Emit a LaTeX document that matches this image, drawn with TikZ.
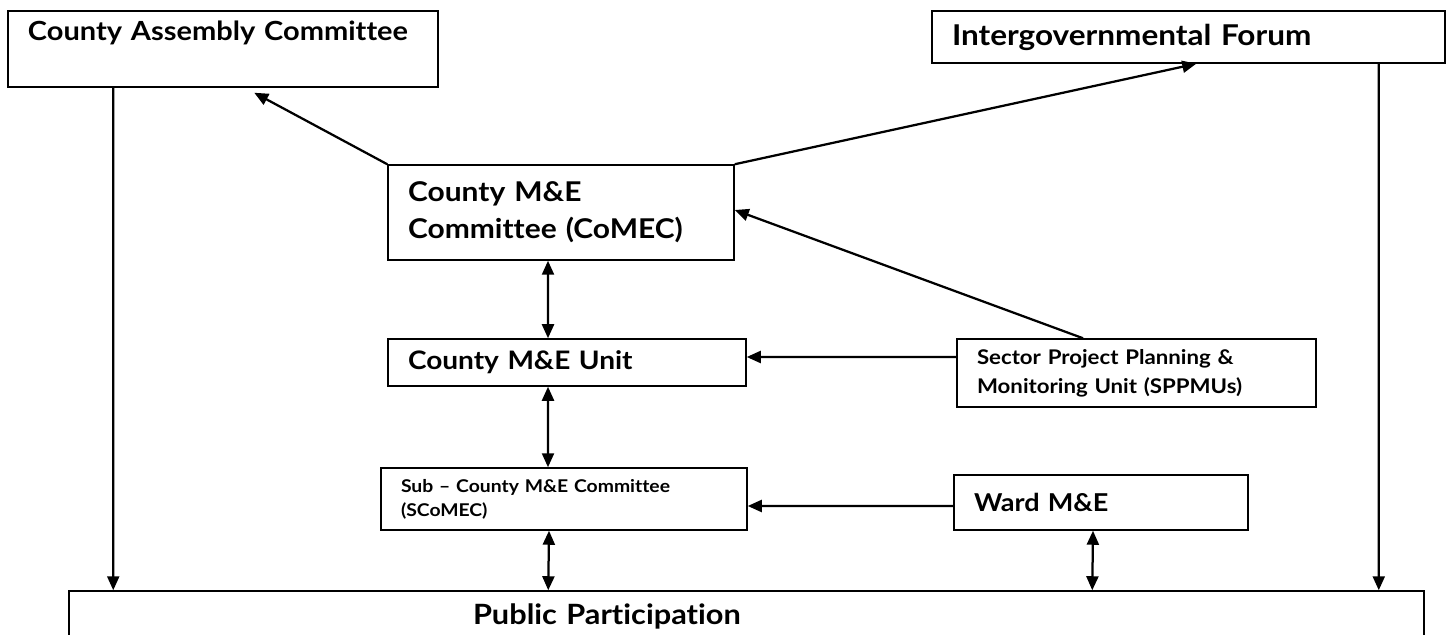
\documentclass[tikz,border=0pt]{standalone}
\usepackage{fontspec}
\setmainfont{Lato}[FakeStretch=1.1, Ligatures=NoCommon]
\usetikzlibrary{arrows.meta}

\begin{document}
\begin{tikzpicture}[
  x=0.2mm, y=-0.2mm,
  box/.style={draw, line width=0.3mm, align=left, inner xsep=4mm,
    inner ysep=0pt, font=\fontsize{15}{21}\selectfont\bfseries},
  smallbox/.style={box, font=\fontsize{11.5}{16.4}\selectfont\bfseries},
  tinybox/.style={box, font=\fontsize{10}{13.6}\selectfont\bfseries},
  arw/.style={-{Triangle[length=2.8mm,width=2.4mm]}, line width=0.45mm},
  dblarw/.style={{Triangle[length=2.8mm,width=2.4mm]}-{Triangle[length=2.8mm,width=2.4mm]},
    line width=0.45mm},
]
\useasboundingbox (0,0) rectangle (1450,635);

\node[box, text width=78mm, minimum height=15.2mm] (cac) at (223,49)
  {County Assembly Committee\\ \mbox{}};
\node[box, text width=94.6mm, minimum height=10.4mm,
  font=\fontsize{16.3}{21}\selectfont\bfseries] (igf) at (1188.5,37)
  {Intergovernmental Forum};
\node[box, text width=61.2mm, minimum height=19mm,
  font=\fontsize{15.5}{21}\selectfont\bfseries] (comec) at (561,212.5)
  {County M\&E\\Committee (CoMEC)};
\node[box, text width=63.6mm, minimum height=9.4mm,
  font=\fontsize{14.5}{21}\selectfont\bfseries] (unit) at (567,362.5)
  {County M\&E Unit};
\node[smallbox, text width=63.8mm, minimum height=13.6mm] (sppmu) at (1136.5,373)
  {Sector Project Planning \&\\Monitoring Unit (SPPMUs)};
\node[tinybox, text width=65.2mm, minimum height=12.4mm] (scomec) at (564,499)
  {Sub -- County M\&E Committee\\(SCoMEC)};
\node[box, text width=50.8mm, minimum height=11mm,
  font=\fontsize{14}{21}\selectfont\bfseries] (ward) at (1101,502.5)
  {Ward M\&E};
\node[box, text width=263mm, minimum height=10mm,
  font=\fontsize{15.9}{21}\selectfont\bfseries] (pp) at (746.5,616)
  {\hspace*{76.8mm}Public Participation};

\draw[arw] ([xshift=21.2mm]cac.south west) -- ([xshift=9mm]pp.north west);
\draw[arw] ([xshift=-13.4mm]igf.south east) -- ([xshift=-9.2mm]pp.north east);
\draw[arw] (comec.north west) -- ([xshift=49.4mm,yshift=-1mm]cac.south west);
\draw[arw] (comec.north east) -- ([xshift=53mm]igf.south west);
\draw[arw] ([xshift=-10.7mm]sppmu.north) -- ([yshift=0.5mm]comec.east);
\draw[dblarw] ([xshift=-2.6mm]comec.south) -- ([xshift=-3.8mm]unit.north);
\draw[arw] ([yshift=3.2mm]sppmu.west) -- ([yshift=1.1mm]unit.east);
\draw[dblarw] ([xshift=-3.8mm]unit.south) -- ([xshift=-3.2mm]scomec.north);
\draw[arw] ([yshift=-0.7mm]ward.west) -- ([yshift=-1.4mm]scomec.east);
\draw[dblarw] ([xshift=-3mm]scomec.south) -- ([xshift=96mm]pp.north west);
\draw[dblarw] ([xshift=-1.6mm]ward.south) -- ([xshift=204.8mm]pp.north west);
\end{tikzpicture}
\end{document}
